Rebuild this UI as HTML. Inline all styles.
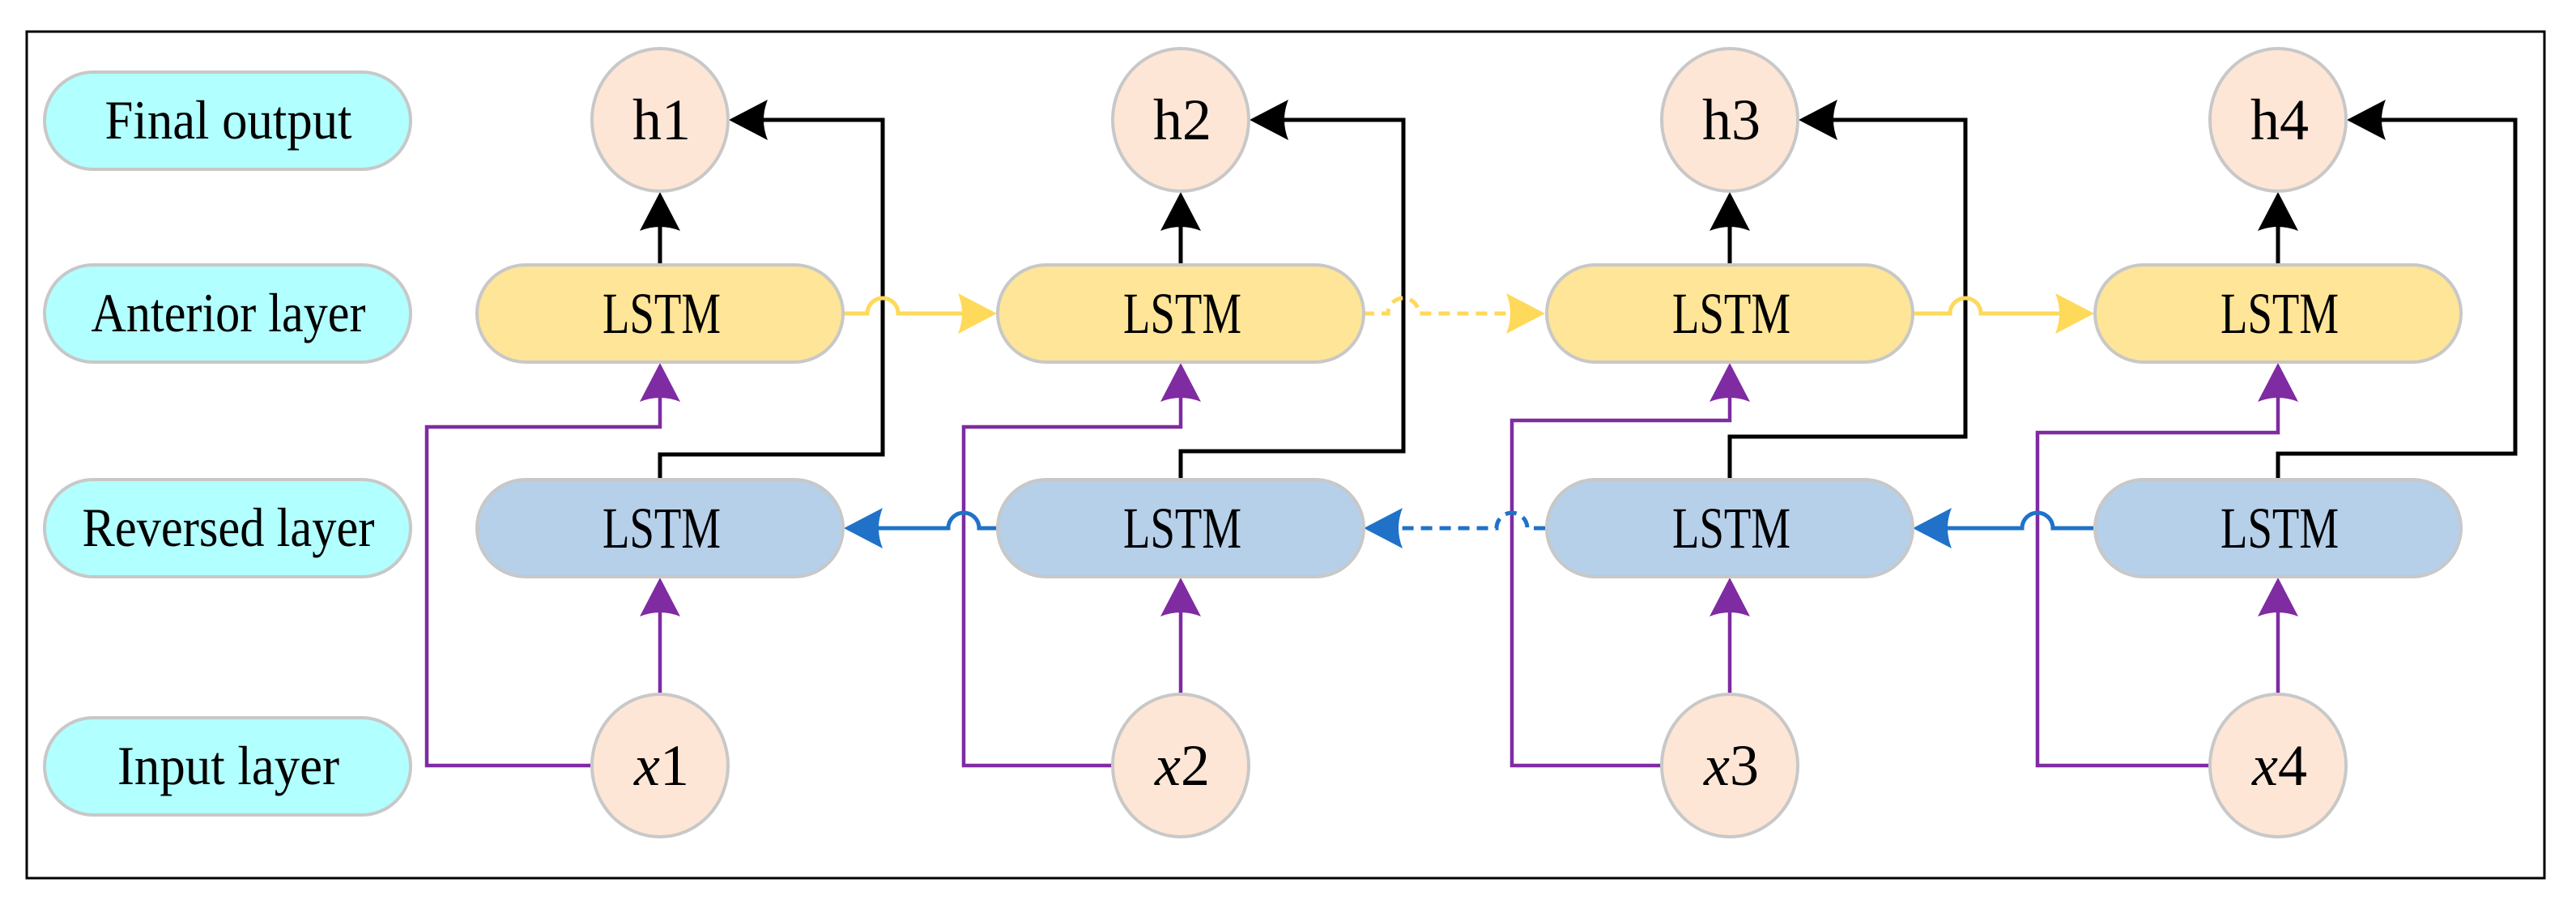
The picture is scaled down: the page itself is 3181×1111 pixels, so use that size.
<!DOCTYPE html>
<html><head><meta charset="utf-8"><style>html,body{margin:0;padding:0;background:#fff}svg{display:block}text{font-family:"Liberation Serif","DejaVu Serif",serif}</style></head>
<body>
<svg width="3181" height="1111" viewBox="0 0 3181 1111" xmlns="http://www.w3.org/2000/svg">
<defs>
<g id="ahR"><path d="M0,0 L-48,-25 Q-38,0 -48,25 Z"/></g>
</defs>
<rect x="33" y="39" width="3109" height="1045" fill="none" stroke="#000" stroke-width="3"/>
<g fill="#b1ffff" stroke="#c8c8c8" stroke-width="4">
<rect x="55" y="89" width="452" height="120" rx="60"/>
<rect x="55" y="327" width="452" height="120" rx="60"/>
<rect x="55" y="592" width="452" height="120" rx="60"/>
<rect x="55" y="886" width="452" height="120" rx="60"/>
</g>
<g font-size="68" fill="#000" text-anchor="middle">
<text x="282" y="171" textLength="305" lengthAdjust="spacingAndGlyphs">Final output</text>
<text x="282" y="409" textLength="339" lengthAdjust="spacingAndGlyphs">Anterior layer</text>
<text x="282" y="674" textLength="361" lengthAdjust="spacingAndGlyphs">Reversed layer</text>
<text x="282" y="968" textLength="274" lengthAdjust="spacingAndGlyphs">Input layer</text>
</g>

<g fill="none" stroke="#000" stroke-width="5">
<path d="M815,592 V561 H1090 V148 H905"/>
<path d="M1458,592 V557 H1733 V148 H1548"/>
<path d="M2136,592 V539 H2427 V148 H2226"/>
<path d="M2813,592 V560 H3106 V148 H2903"/>
<path d="M815,327 V270"/><path d="M1458,327 V270"/><path d="M2136,327 V270"/><path d="M2813,327 V270"/>
</g>
<g fill="#000">
<use href="#ahR" transform="translate(900,148) rotate(180)"/>
<use href="#ahR" transform="translate(1543,148) rotate(180)"/>
<use href="#ahR" transform="translate(2221,148) rotate(180)"/>
<use href="#ahR" transform="translate(2898,148) rotate(180)"/>
<use href="#ahR" transform="translate(815,237) rotate(-90)"/>
<use href="#ahR" transform="translate(1458,237) rotate(-90)"/>
<use href="#ahR" transform="translate(2136,237) rotate(-90)"/>
<use href="#ahR" transform="translate(2813,237) rotate(-90)"/>
</g>
<g fill="none" stroke="#7f2ba2" stroke-width="4.5">
<path d="M731,945 H527 V527 H815 V470"/>
<path d="M1374,945 H1190 V527 H1458 V470"/>
<path d="M2052,945 H1867 V519 H2136 V470"/>
<path d="M2729,945 H2516 V534 H2813 V470"/>
<path d="M815,856 V735"/><path d="M1458,856 V735"/><path d="M2136,856 V735"/><path d="M2813,856 V735"/>
</g>
<g fill="#7f2ba2">
<use href="#ahR" transform="translate(815,448) rotate(-90)"/>
<use href="#ahR" transform="translate(1458,448) rotate(-90)"/>
<use href="#ahR" transform="translate(2136,448) rotate(-90)"/>
<use href="#ahR" transform="translate(2813,448) rotate(-90)"/>
<use href="#ahR" transform="translate(815,713) rotate(-90)"/>
<use href="#ahR" transform="translate(1458,713) rotate(-90)"/>
<use href="#ahR" transform="translate(2136,713) rotate(-90)"/>
<use href="#ahR" transform="translate(2813,713) rotate(-90)"/>
</g>
<g fill="none" stroke="#fed95a" stroke-width="5">
<path d="M1041,387 H1071 A19,19 0 0 1 1109,387 H1200"/>
<path d="M1683,387 H1714 A19,19 0 0 1 1752,387 H1878" stroke-dasharray="14,9"/>
<path d="M2362,387 H2408 A19,19 0 0 1 2446,387 H2555"/>
</g>
<g fill="#fed95a">
<use href="#ahR" transform="translate(1231,387)"/>
<use href="#ahR" transform="translate(1908,387)"/>
<use href="#ahR" transform="translate(2586,387)"/>
</g>
<g fill="none" stroke="#1f72c8" stroke-width="5">
<path d="M1231,652 H1209 A19,19 0 0 0 1171,652 H1075"/>
<path d="M1908,652 H1886 A19,19 0 0 0 1848,652 H1720" stroke-dasharray="14,9"/>
<path d="M2585,652 H2535 A19,19 0 0 0 2497,652 H2400"/>
</g>
<g fill="#1f72c8">
<use href="#ahR" transform="translate(1042,652) rotate(180)"/>
<use href="#ahR" transform="translate(1684,652) rotate(180)"/>
<use href="#ahR" transform="translate(2362,652) rotate(180)"/>
</g>

<g stroke="#c8c8c8" stroke-width="4">
<g fill="#fee597">
<rect x="589" y="327" width="452" height="120" rx="60"/>
<rect x="1232" y="327" width="452" height="120" rx="60"/>
<rect x="1910" y="327" width="452" height="120" rx="60"/>
<rect x="2587" y="327" width="452" height="120" rx="60"/>
</g>
<g fill="#b6d0ea">
<rect x="589" y="592" width="452" height="120" rx="60"/>
<rect x="1232" y="592" width="452" height="120" rx="60"/>
<rect x="1910" y="592" width="452" height="120" rx="60"/>
<rect x="2587" y="592" width="452" height="120" rx="60"/>
</g>
<g fill="#fee6d6">
<ellipse cx="815" cy="148" rx="84" ry="88"/>
<ellipse cx="1458" cy="148" rx="84" ry="88"/>
<ellipse cx="2136" cy="148" rx="84" ry="88"/>
<ellipse cx="2813" cy="148" rx="84" ry="88"/>
<ellipse cx="815" cy="945" rx="84" ry="88"/>
<ellipse cx="1458" cy="945" rx="84" ry="88"/>
<ellipse cx="2136" cy="945" rx="84" ry="88"/>
<ellipse cx="2813" cy="945" rx="84" ry="88"/>
</g>
</g>
<g font-size="72" fill="#000" text-anchor="middle">
<text x="817" y="411" textLength="146" lengthAdjust="spacingAndGlyphs">LSTM</text>
<text x="1460" y="411" textLength="146" lengthAdjust="spacingAndGlyphs">LSTM</text>
<text x="2138" y="411" textLength="146" lengthAdjust="spacingAndGlyphs">LSTM</text>
<text x="2815" y="411" textLength="146" lengthAdjust="spacingAndGlyphs">LSTM</text>
<text x="817" y="676" textLength="146" lengthAdjust="spacingAndGlyphs">LSTM</text>
<text x="1460" y="676" textLength="146" lengthAdjust="spacingAndGlyphs">LSTM</text>
<text x="2138" y="676" textLength="146" lengthAdjust="spacingAndGlyphs">LSTM</text>
<text x="2815" y="676" textLength="146" lengthAdjust="spacingAndGlyphs">LSTM</text>
<text x="817" y="172">h1</text>
<text x="1460" y="172">h2</text>
<text x="2138" y="172">h3</text>
<text x="2815" y="172">h4</text>
<text x="817" y="969"><tspan font-style="italic">x</tspan>1</text>
<text x="1460" y="969"><tspan font-style="italic">x</tspan>2</text>
<text x="2138" y="969"><tspan font-style="italic">x</tspan>3</text>
<text x="2815" y="969"><tspan font-style="italic">x</tspan>4</text>
</g>
</svg>
</body></html>
